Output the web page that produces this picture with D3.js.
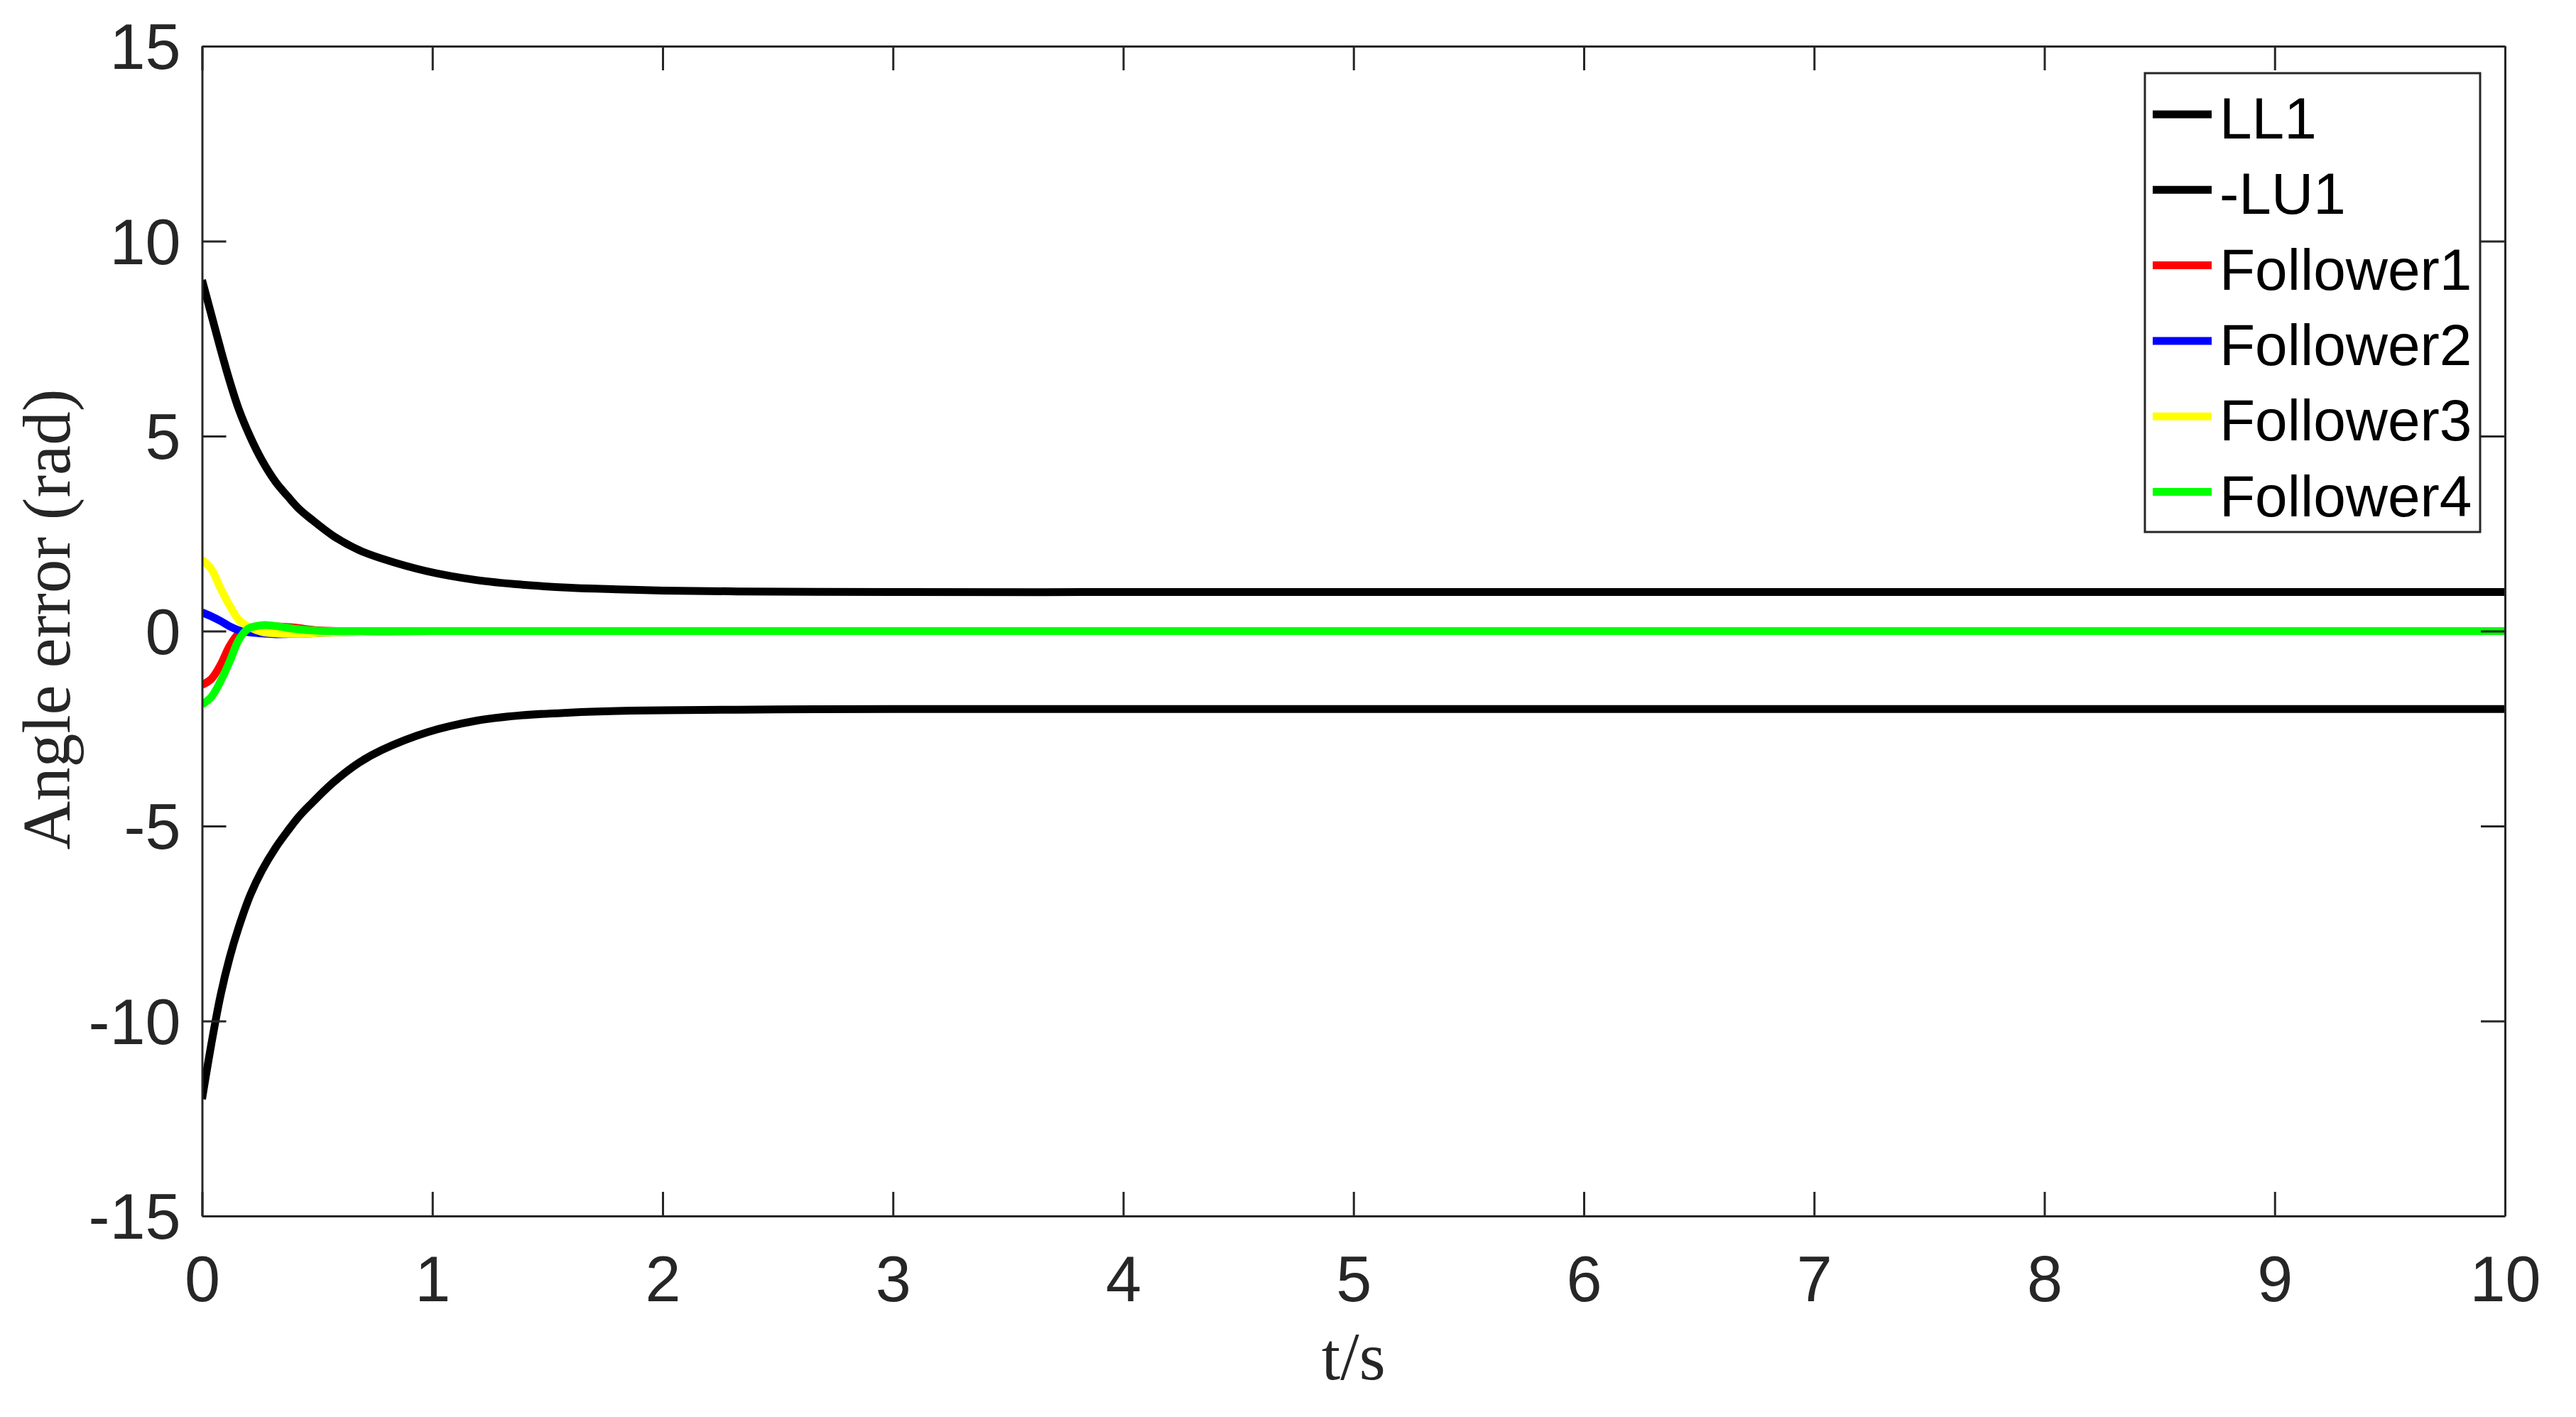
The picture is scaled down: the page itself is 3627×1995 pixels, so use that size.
<!DOCTYPE html>
<html>
<head>
<meta charset="utf-8">
<script src="https://cdn.jsdelivr.net/npm/d3@7"></script>
<style>
  html, body { margin: 0; padding: 0; background: #fff; }
  svg { display: block; }
</style>
</head>
<body>
<svg id="chart" width="3627" height="1995"></svg>
<script>
// ---------- data ----------
const xTicks = [0, 1, 2, 3, 4, 5, 6, 7, 8, 9, 10];
const yTicks = [-15, -10, -5, 0, 5, 10, 15];

const tBound = [0, 0.04, 0.08, 0.12, 0.16, 0.21, 0.26, 0.32, 0.37, 0.42, 0.47, 0.57, 0.68, 0.78, 0.98, 1.19, 1.39, 1.6, 1.8, 2.0, 2.5, 3, 4, 5, 6, 7, 8, 9, 10];
const LL1    = [9.0, 8.12, 7.24, 6.41, 5.68, 4.97, 4.38, 3.82, 3.47, 3.14, 2.89, 2.44, 2.08, 1.86, 1.53, 1.31, 1.19, 1.11, 1.07, 1.04, 1.01, 1.0, 1.0, 1.0, 1.0, 1.0, 1.0, 1.0, 1.0];
const negLU1 = [-12.0, -10.6, -9.35, -8.37, -7.58, -6.76, -6.14, -5.55, -5.14, -4.76, -4.45, -3.88, -3.38, -3.05, -2.59, -2.30, -2.16, -2.09, -2.05, -2.03, -2.01, -2.0, -2.0, -2.0, -2.0, -2.0, -2.0, -2.0, -2.0];

const tFol = [0, 0.04, 0.08, 0.12, 0.16, 0.2, 0.26, 0.32, 0.4, 0.5, 0.6, 0.8, 1, 2, 3, 4, 5, 6, 7, 8, 9, 10];
const follower1 = [-1.38, -1.23, -0.87, -0.38, -0.06, 0.06, 0.12, 0.12, 0.09, 0.02, 0.0, 0, 0, 0, 0, 0, 0, 0, 0, 0, 0, 0];
const follower2 = [0.48, 0.38, 0.26, 0.12, 0.02, -0.03, -0.06, -0.08, -0.07, -0.05, -0.03, -0.01, 0, 0, 0, 0, 0, 0, 0, 0, 0, 0];
const follower3 = [1.83, 1.59, 1.10, 0.65, 0.29, 0.12, -0.02, -0.06, -0.07, -0.05, -0.03, -0.01, 0, 0, 0, 0, 0, 0, 0, 0, 0, 0];
const follower4 = [-1.89, -1.69, -1.29, -0.78, -0.22, 0.06, 0.15, 0.13, 0.06, 0.01, 0.0, 0, 0, 0, 0, 0, 0, 0, 0, 0, 0, 0];

const seriesNames = ["LL1", "-LU1", "Follower1", "Follower2", "Follower3", "Follower4"];
const seriesColors = ["#000000", "#000000", "#ff0000", "#0000ff", "#ffff00", "#00ff00"];

// ---------- layout ----------
const plot = { left: 284.5, right: 3527, top: 65, bottom: 1712 };
const axisColor = "#262626";

const svg = d3.select("#chart");
const x = d3.scaleLinear().domain([0, 10]).range([plot.left, plot.right]);
const y = d3.scaleLinear().domain([-15, 15]).range([plot.bottom, plot.top]);

const series = [
  { name: seriesNames[0], color: seriesColors[0], t: tBound, v: LL1 },
  { name: seriesNames[1], color: seriesColors[1], t: tBound, v: negLU1 },
  { name: seriesNames[2], color: seriesColors[2], t: tFol, v: follower1 },
  { name: seriesNames[3], color: seriesColors[3], t: tFol, v: follower2 },
  { name: seriesNames[4], color: seriesColors[4], t: tFol, v: follower3 },
  { name: seriesNames[5], color: seriesColors[5], t: tFol, v: follower4 }
];

svg.append("clipPath").attr("id", "clip")
  .append("rect")
  .attr("x", plot.left).attr("y", plot.top)
  .attr("width", plot.right - plot.left).attr("height", plot.bottom - plot.top);

const line = d3.line()
  .x(d => x(d[0]))
  .y(d => y(d[1]))
  .curve(d3.curveCatmullRom.alpha(0.5));

const gLines = svg.append("g").attr("clip-path", "url(#clip)");
series.forEach(s => {
  const pts = s.t.map((t, i) => [t, s.v[i]]);
  gLines.append("path")
    .datum(pts)
    .attr("d", line)
    .attr("fill", "none")
    .attr("stroke", s.color)
    .attr("stroke-width", 11)
    .attr("stroke-linejoin", "round");
});

// ---------- axes ----------
const tickLen = 34;
const fontTick = "'Liberation Sans', Arial, Helvetica, sans-serif";
const fmt = d => String(d);

const xAxisB = d3.axisBottom(x).tickValues(xTicks).tickSizeInner(-tickLen).tickSizeOuter(0).tickPadding(0).tickFormat(fmt);
const xAxisT = d3.axisTop(x).tickValues(xTicks).tickSizeInner(-tickLen).tickSizeOuter(0).tickFormat("");
const yAxisL = d3.axisLeft(y).tickValues(yTicks).tickSizeInner(-tickLen).tickSizeOuter(0).tickPadding(0).tickFormat(fmt);
const yAxisR = d3.axisRight(y).tickValues(yTicks).tickSizeInner(-tickLen).tickSizeOuter(0).tickFormat("");

function styleAxis(g) {
  g.select(".domain").attr("stroke", axisColor).attr("stroke-width", 3);
  g.selectAll(".tick line").attr("stroke", axisColor).attr("stroke-width", 3);
  g.selectAll(".tick text").attr("fill", axisColor)
    .style("font-family", fontTick).style("font-size", "90px");
}

const gxb = svg.append("g").attr("transform", `translate(0,${plot.bottom})`).call(xAxisB).call(styleAxis);
gxb.selectAll(".tick text").attr("y", 88).attr("dy", "0.35em");
svg.append("g").attr("transform", `translate(0,${plot.top})`).call(xAxisT).call(styleAxis);
const gyl = svg.append("g").attr("transform", `translate(${plot.left},0)`).call(yAxisL).call(styleAxis);
gyl.selectAll(".tick text").attr("x", -30).attr("dy", "0.35em");
svg.append("g").attr("transform", `translate(${plot.right},0)`).call(yAxisR).call(styleAxis);

// axis titles
svg.append("text")
  .attr("x", (plot.left + plot.right) / 2)
  .attr("y", 1942)
  .attr("text-anchor", "middle")
  .attr("fill", axisColor)
  .style("font-family", "'Liberation Serif', 'Times New Roman', serif")
  .style("font-size", "95px")
  .text("t/s");

svg.append("text")
  .attr("transform", `translate(98,872) rotate(-90)`)
  .attr("text-anchor", "middle")
  .attr("fill", axisColor)
  .style("font-family", "'Liberation Serif', 'Times New Roman', serif")
  .style("font-size", "95px")
  .text("Angle error (rad)");

// ---------- legend ----------
const leg = { x: 3020, y: 103, w: 472, h: 646 };
const gLeg = svg.append("g");
gLeg.append("rect")
  .attr("x", leg.x).attr("y", leg.y).attr("width", leg.w).attr("height", leg.h)
  .attr("fill", "#fff").attr("stroke", axisColor).attr("stroke-width", 3);

const rowY = d3.scaleLinear().domain([0, 5]).range([161, 692.5]);
series.forEach((s, i) => {
  const yy = rowY(i);
  gLeg.append("line")
    .attr("x1", 3031).attr("x2", 3114)
    .attr("y1", yy).attr("y2", yy)
    .attr("stroke", s.color).attr("stroke-width", 11);
  gLeg.append("text")
    .attr("x", 3125).attr("y", yy + 34)
    .attr("fill", "#000")
    .style("font-family", fontTick)
    .style("font-size", "82px")
    .text(s.name);
});
</script>
</body>
</html>
